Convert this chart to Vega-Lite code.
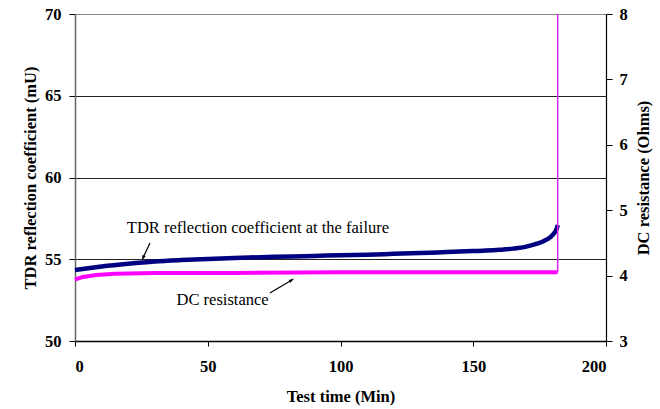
{
  "$schema": "https://vega.github.io/schema/vega-lite/v6.json",
  "width": 531,
  "height": 327,
  "autosize": "none",
  "padding": {"left": 75, "top": 14, "right": 54, "bottom": 68},
  "background": "white",
  "config": {
    "view": {"stroke": null},
    "font": "'Liberation Serif', 'Times New Roman', serif",
    "text": {"font": "'Liberation Serif', 'Times New Roman', serif"},
    "axis": {
      "labelFont": "'Liberation Serif', 'Times New Roman', serif",
      "labelFontWeight": "bold",
      "labelFontSize": 16.5,
      "labelColor": "#000",
      "titleFont": "'Liberation Serif', 'Times New Roman', serif",
      "titleFontWeight": "bold",
      "titleFontSize": 16.5,
      "titleColor": "#000",
      "tickColor": "#000",
      "domainColor": "#000"
    }
  },
  "datasets": {
    "tdr": [
      {"t": 0, "v": 54.34}, {"t": 5, "v": 54.45}, {"t": 10, "v": 54.55},
      {"t": 20, "v": 54.72}, {"t": 30, "v": 54.86}, {"t": 40, "v": 54.95},
      {"t": 50, "v": 55.02}, {"t": 60, "v": 55.08}, {"t": 75, "v": 55.15},
      {"t": 90, "v": 55.2}, {"t": 100, "v": 55.25}, {"t": 110, "v": 55.28},
      {"t": 120, "v": 55.33}, {"t": 130, "v": 55.38}, {"t": 140, "v": 55.44},
      {"t": 150, "v": 55.5}, {"t": 155, "v": 55.53}, {"t": 160, "v": 55.58},
      {"t": 165, "v": 55.65}, {"t": 170, "v": 55.77}, {"t": 174, "v": 55.95},
      {"t": 177, "v": 56.15}, {"t": 179, "v": 56.35}, {"t": 180.5, "v": 56.6},
      {"t": 181.5, "v": 56.9}, {"t": 181.8, "v": 57.1}
    ],
    "dc": [
      {"t": 0, "r": 3.94}, {"t": 3, "r": 3.98}, {"t": 8, "r": 4.01},
      {"t": 15, "r": 4.03}, {"t": 30, "r": 4.04}, {"t": 60, "r": 4.04},
      {"t": 100, "r": 4.05}, {"t": 140, "r": 4.05}, {"t": 181.8, "r": 4.05}
    ],
    "failure": [{"t": 181.8, "r0": 4.05, "r1": 8}],
    "notes": [
      {"t": 68.9, "v": 56.91, "label": "TDR reflection coefficient at the failure"},
      {"t": 55.6, "v": 52.5, "label": "DC resistance"}
    ],
    "arrows": [
      {"t0": 28.25, "v0": 55.99, "t1": 25.6, "v1": 55.08, "ang": 205},
      {"t0": 73.4, "v0": 52.94, "t1": 81.7, "v1": 53.73, "ang": 59}
    ]
  },
  "resolve": {"scale": {"y": "independent"}},
  "layer": [
    {
      "layer": [
        {
          "data": {"name": "tdr"},
          "mark": {"type": "line", "color": "#000080", "strokeWidth": 4.5, "interpolate": "monotone"},
          "encoding": {
            "x": {
              "field": "t", "type": "quantitative",
              "scale": {"domain": [0, 200], "nice": false},
              "axis": {
                "title": "Test time (Min)", "values": [0, 50, 100, 150, 200],
                "grid": false, "tickSize": 5, "labelPadding": 12, "titlePadding": 14,
                "domainWidth": 1.5
              }
            },
            "y": {
              "field": "v", "type": "quantitative",
              "scale": {"domain": [50, 70], "nice": false, "zero": false},
              "axis": {
                "title": "TDR reflection coefficient (mU)", "values": [50, 55, 60, 65, 70],
                "grid": true,
                "gridColor": {"condition": {"test": "datum.value == 70", "value": "#888"}, "value": "#222"},
                "gridWidth": 1.2,
                "domainColor": "#666", "domainWidth": 1.5,
                "tickSize": 6, "labelPadding": 8, "titlePadding": 6
              }
            }
          }
        },
        {
          "data": {"name": "notes"},
          "mark": {"type": "text", "fontSize": 16.5, "font": "'Liberation Serif', 'Times New Roman', serif", "color": "#000", "align": "center", "baseline": "middle"},
          "encoding": {
            "x": {"field": "t", "type": "quantitative"},
            "y": {"field": "v", "type": "quantitative"},
            "text": {"field": "label"}
          }
        },
        {
          "data": {"name": "arrows"},
          "mark": {"type": "rule", "color": "#000", "strokeWidth": 1.2},
          "encoding": {
            "x": {"field": "t0", "type": "quantitative"},
            "y": {"field": "v0", "type": "quantitative"},
            "x2": {"field": "t1"},
            "y2": {"field": "v1"}
          }
        },
        {
          "data": {"name": "arrows"},
          "mark": {"type": "point", "shape": "M0,-1L0.6,1L-0.6,1Z", "filled": true, "color": "#000", "size": 30, "opacity": 1},
          "encoding": {
            "x": {"field": "t1", "type": "quantitative"},
            "y": {"field": "v1", "type": "quantitative"},
            "angle": {"field": "ang", "type": "quantitative", "scale": null}
          }
        }
      ]
    },
    {
      "layer": [
        {
          "data": {"name": "dc"},
          "mark": {"type": "line", "color": "#ff00ff", "strokeWidth": 4},
          "encoding": {
            "x": {"field": "t", "type": "quantitative"},
            "y": {
              "field": "r", "type": "quantitative",
              "scale": {"domain": [3, 8], "nice": false, "zero": false},
              "axis": {
                "orient": "right", "title": "DC resistance (Ohms)",
                "values": [3, 4, 5, 6, 7, 8], "format": "d", "grid": false,
                "tickSize": 6, "labelPadding": 7, "titlePadding": 8,
                "titleAngle": 270, "titleBaseline": "top",
                "domainWidth": 1.2
              }
            }
          }
        },
        {
          "data": {"name": "failure"},
          "mark": {"type": "rule", "color": "#dd22ee", "strokeWidth": 1.5},
          "encoding": {
            "x": {"field": "t", "type": "quantitative"},
            "y": {"field": "r0", "type": "quantitative"},
            "y2": {"field": "r1"}
          }
        }
      ]
    }
  ]
}
